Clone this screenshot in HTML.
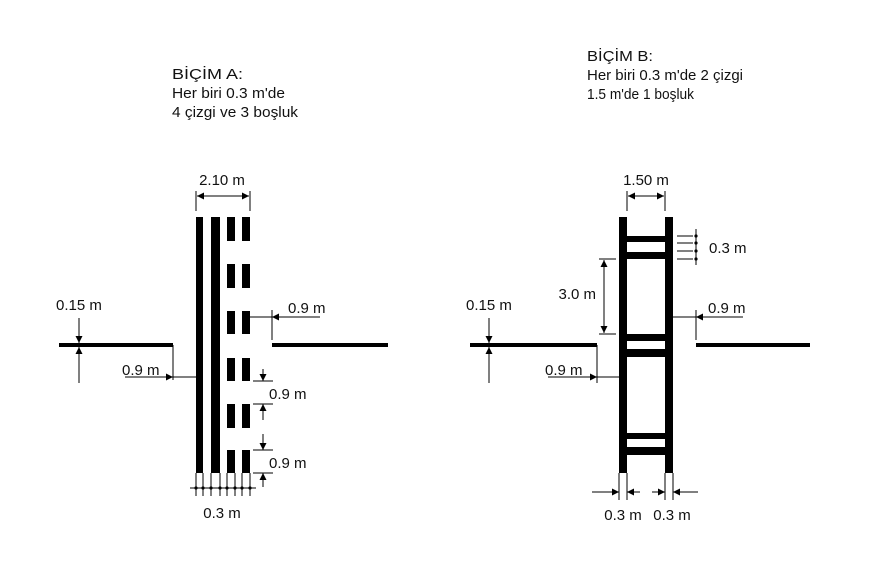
<!DOCTYPE html>
<html><head><meta charset="utf-8"><style>
html,body{margin:0;padding:0;background:#fff;}
svg{display:block;font-family:"Liberation Sans",sans-serif;}
text{font-size:15px;fill:#111;}
</style></head><body>
<svg width="876" height="566" viewBox="0 0 876 566">
<defs>
<marker id="ah" viewBox="0 0 10 10" refX="10" refY="5" markerWidth="7" markerHeight="7" orient="auto-start-reverse" markerUnits="userSpaceOnUse"><path d="M0,0 L10,5 L0,10 z" fill="#000"/></marker>
</defs>
<g>
<text x="172" y="79" textLength="71" lengthAdjust="spacingAndGlyphs">BİÇİM A:</text>
<text x="172" y="98" textLength="113" lengthAdjust="spacingAndGlyphs">Her biri 0.3 m'de</text>
<text x="172" y="117" textLength="126" lengthAdjust="spacingAndGlyphs">4 çizgi ve 3 boşluk</text>
</g>
<g>
<text x="587" y="61" textLength="66" lengthAdjust="spacingAndGlyphs">BİÇİM B:</text>
<text x="587" y="80" textLength="156" lengthAdjust="spacingAndGlyphs">Her biri 0.3 m'de 2 çizgi</text>
<text x="587" y="99" textLength="107" lengthAdjust="spacingAndGlyphs">1.5 m'de 1 boşluk</text>
</g>

<g>
<rect x="196" y="217" width="7" height="256" fill="#000"/>
<rect x="211" y="217" width="9" height="256" fill="#000"/>
<g fill="#000">
<rect x="227" y="217" width="8" height="24"/><rect x="242" y="217" width="8" height="24"/>
<rect x="227" y="264" width="8" height="24"/><rect x="242" y="264" width="8" height="24"/>
<rect x="227" y="311" width="8" height="23"/><rect x="242" y="311" width="8" height="23"/>
<rect x="227" y="358" width="8" height="23"/><rect x="242" y="358" width="8" height="23"/>
<rect x="227" y="404" width="8" height="24"/><rect x="242" y="404" width="8" height="24"/>
<rect x="227" y="450" width="8" height="23"/><rect x="242" y="450" width="8" height="23"/>
</g>
<rect x="59" y="343" width="114" height="4" fill="#000"/>
<rect x="272" y="343" width="116" height="4" fill="#000"/>
</g>
<g stroke="#000" stroke-width="1" fill="none">
<line x1="196" y1="191" x2="196" y2="211"/><line x1="250" y1="191" x2="250" y2="211"/>
<line x1="197" y1="196" x2="249" y2="196" marker-start="url(#ah)" marker-end="url(#ah)"/>
<line x1="79" y1="318" x2="79" y2="343" marker-end="url(#ah)"/>
<line x1="79" y1="383" x2="79" y2="347" marker-end="url(#ah)"/>
<line x1="125" y1="377" x2="173" y2="377" marker-end="url(#ah)"/>
<line x1="173" y1="345" x2="173" y2="380"/><line x1="173" y1="377" x2="196" y2="377"/>
<line x1="320" y1="317" x2="272" y2="317" marker-end="url(#ah)"/>
<line x1="272" y1="310" x2="272" y2="340"/><line x1="250" y1="317" x2="272" y2="317"/>
<line x1="253" y1="381" x2="273" y2="381"/><line x1="253" y1="404" x2="273" y2="404"/>
<line x1="253" y1="450" x2="273" y2="450"/><line x1="253" y1="473" x2="273" y2="473"/>
<line x1="263" y1="369" x2="263" y2="381" marker-end="url(#ah)"/>
<line x1="263" y1="420" x2="263" y2="404" marker-end="url(#ah)"/>
<line x1="263" y1="434" x2="263" y2="450" marker-end="url(#ah)"/>
<line x1="263" y1="487" x2="263" y2="473" marker-end="url(#ah)"/>
<line x1="190" y1="488" x2="256" y2="488"/>
<line x1="196" y1="473" x2="196" y2="496"/><line x1="203" y1="473" x2="203" y2="496"/>
<line x1="211" y1="473" x2="211" y2="496"/><line x1="220" y1="473" x2="220" y2="496"/>
<line x1="227" y1="473" x2="227" y2="496"/><line x1="235" y1="473" x2="235" y2="496"/>
<line x1="242" y1="473" x2="242" y2="496"/><line x1="250" y1="473" x2="250" y2="496"/>
</g>
<g fill="#000">
<circle cx="196" cy="488" r="1.6"/><circle cx="203" cy="488" r="1.6"/><circle cx="211" cy="488" r="1.6"/><circle cx="220" cy="488" r="1.6"/>
<circle cx="227" cy="488" r="1.6"/><circle cx="235" cy="488" r="1.6"/><circle cx="242" cy="488" r="1.6"/><circle cx="250" cy="488" r="1.6"/>
</g>
<g>
<text x="222" y="185" text-anchor="middle">2.10 m</text>
<text x="56" y="310">0.15 m</text>
<text x="122" y="375">0.9 m</text>
<text x="288" y="313">0.9 m</text>
<text x="269" y="399">0.9 m</text>
<text x="269" y="468">0.9 m</text>
<text x="222" y="518" text-anchor="middle">0.3 m</text>
</g>

<g fill="#000">
<rect x="619" y="217" width="8" height="256"/>
<rect x="665" y="217" width="8" height="256"/>
<rect x="627" y="236" width="38" height="6"/><rect x="627" y="252" width="38" height="7"/>
<rect x="627" y="334" width="38" height="7"/><rect x="627" y="349" width="38" height="8"/>
<rect x="627" y="433" width="38" height="6"/><rect x="627" y="447" width="38" height="8"/>
<rect x="470" y="343" width="127" height="4"/>
<rect x="696" y="343" width="114" height="4"/>
</g>
<g stroke="#000" stroke-width="1" fill="none">
<line x1="627" y1="191" x2="627" y2="211"/><line x1="665" y1="191" x2="665" y2="211"/>
<line x1="628" y1="196" x2="664" y2="196" marker-start="url(#ah)" marker-end="url(#ah)"/>
<line x1="677" y1="236" x2="693" y2="236"/><line x1="677" y1="243" x2="693" y2="243"/>
<line x1="677" y1="251" x2="693" y2="251"/><line x1="677" y1="259" x2="693" y2="259"/>
<line x1="696" y1="229" x2="696" y2="265"/>
<line x1="599" y1="259" x2="616" y2="259"/><line x1="599" y1="334" x2="616" y2="334"/>
<line x1="604" y1="260" x2="604" y2="333" marker-start="url(#ah)" marker-end="url(#ah)"/>
<line x1="489" y1="318" x2="489" y2="343" marker-end="url(#ah)"/>
<line x1="489" y1="383" x2="489" y2="347" marker-end="url(#ah)"/>
<line x1="548" y1="377" x2="597" y2="377" marker-end="url(#ah)"/>
<line x1="597" y1="345" x2="597" y2="383"/><line x1="597" y1="377" x2="619" y2="377"/>
<line x1="743" y1="317" x2="696" y2="317" marker-end="url(#ah)"/>
<line x1="696" y1="310" x2="696" y2="340"/><line x1="673" y1="317" x2="696" y2="317"/>
<line x1="619" y1="473" x2="619" y2="500"/><line x1="627" y1="473" x2="627" y2="500"/>
<line x1="665" y1="473" x2="665" y2="500"/><line x1="673" y1="473" x2="673" y2="500"/>
<line x1="592" y1="492" x2="619" y2="492" marker-end="url(#ah)"/>
<line x1="640" y1="492" x2="627" y2="492" marker-end="url(#ah)"/>
<line x1="652" y1="492" x2="665" y2="492" marker-end="url(#ah)"/>
<line x1="698" y1="492" x2="673" y2="492" marker-end="url(#ah)"/>
</g>
<g fill="#000">
<circle cx="696" cy="236" r="1.6"/><circle cx="696" cy="243" r="1.6"/><circle cx="696" cy="251" r="1.6"/><circle cx="696" cy="259" r="1.6"/>
</g>
<g>
<text x="646" y="185" text-anchor="middle">1.50 m</text>
<text x="709" y="253">0.3 m</text>
<text x="596" y="299" text-anchor="end">3.0 m</text>
<text x="466" y="310">0.15 m</text>
<text x="545" y="375">0.9 m</text>
<text x="708" y="313">0.9 m</text>
<text x="623" y="520" text-anchor="middle">0.3 m</text>
<text x="672" y="520" text-anchor="middle">0.3 m</text>
</g>
</svg>
</body></html>
